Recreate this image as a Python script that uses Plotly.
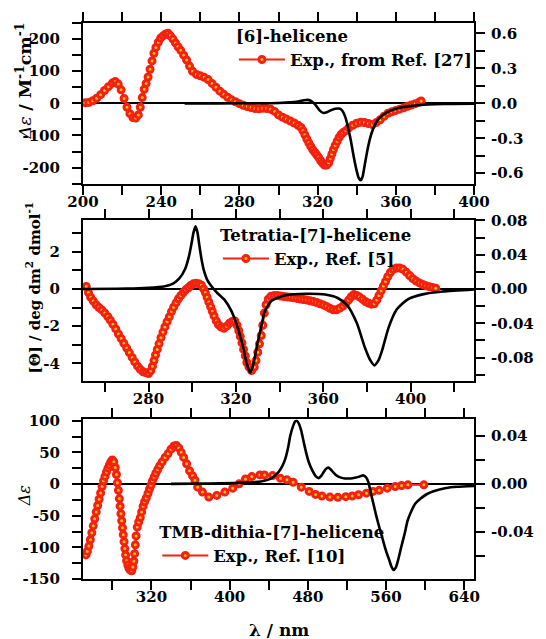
import plotly.graph_objects as go

# ---------------- [6]-helicene ----------------
hel6_exp_nm = [201, 203, 205, 207, 209, 211, 213, 215, 216.5, 218, 219.5, 221, 222.5, 224, 225.5, 227,
               228.3, 229.3, 230.3, 231.3, 232.3, 233.3, 234.3, 235.3, 236.3, 237.3, 238.5, 239.7, 241,
               242.3, 243.5, 244.7, 246, 247.3, 248.6, 250, 251.5, 253, 254.5, 256, 258, 260, 262, 264,
               266, 268, 270, 272, 274, 276, 278, 280, 282, 284, 286, 288, 290, 292, 294, 296, 298, 300,
               302, 304, 306, 308, 310, 311.5, 312.5, 313.5, 314.5, 315.5, 316.5, 317.5, 318.5, 319.5,
               320.5, 321.5, 322.5, 323.5, 324.7, 325.7, 326.5, 327.3, 328.1, 329, 330, 331, 332, 333,
               334.5, 336, 338, 340, 342, 344, 346, 348, 350, 352, 354, 356, 358, 360, 362, 364, 366,
               368, 370, 372, 373]
hel6_exp_de = [2, 3, 8, 16, 27, 40, 52, 63, 68, 60, 42, 15, -12, -32, -44, -46,
               -36, -12, 18, 44, 62, 82, 106, 132, 156, 174, 190, 203, 210,
               216, 218, 210, 200, 188, 176, 165, 150, 135, 116, 100, 90, 86, 81, 74,
               62, 50, 38, 28, 19, 11, 5, -1, -6, -10, -13, -16, -17, -15, -16, -18, -25, -36,
               -43, -49, -55, -61, -68, -75, -85, -98, -111, -123, -134, -144, -152, -160,
               -168, -178, -186, -192, -192, -185, -172, -158, -144, -131, -118, -106, -97, -91,
               -85, -76, -68, -62, -59, -60, -63, -66, -60, -51, -40, -31, -26, -22, -18, -14, -9,
               -5, -1, 4, 7]
hel6_calc_nm = [252, 270, 290, 300, 306, 310, 313, 315, 317, 319, 321, 323, 325, 327, 329, 331,
                332.5, 334, 335.5, 337, 338.5, 340, 341, 342, 343, 344, 345.5, 347, 348.5, 350.5,
                353.4, 357, 361.5, 367, 373, 380, 389, 400]
hel6_calc_de = [0, 0, 0.001, 0.003, 0.008, 0.016, 0.026, 0.03, 0.018, -0.015, -0.06, -0.083, -0.075,
                -0.058, -0.047, -0.045, -0.06, -0.11, -0.2, -0.32, -0.46, -0.58, -0.64, -0.66, -0.63,
                -0.54, -0.4, -0.29, -0.215, -0.15, -0.1, -0.065, -0.04, -0.024, -0.014, -0.008,
                -0.005, -0.003]

# ---------------- Tetrathia-[7]-helicene ----------------
tth7_exp_nm = [251.5, 252.5, 253.5, 254.7, 256, 257.3, 258.6, 260, 261.3, 262.5, 263.7, 265, 266.2,
               267.5, 268.7, 270, 271.2, 272.5, 273.7, 275, 276.2, 277.5, 278.7, 280, 281, 281.8,
               282.5, 283.2, 284, 284.8, 285.7, 286.6, 287.5, 288.5, 289.5, 290.5, 291.5, 292.6,
               293.7, 294.8, 296, 297, 298.2, 299.3, 300.5, 301.7, 303, 304.2, 305.2, 306, 306.8,
               307.6, 308.4, 309.2, 310, 311, 312, 313.2, 314.5, 315.8, 317, 318.3, 319.5, 320.5,
               321.3, 322, 322.8, 323.5, 324.3, 325, 326, 327.2, 328.4, 329.2, 330, 330.8, 331.6,
               332.3, 333, 333.8, 334.8, 336, 337.5, 339, 340.5, 342, 343.5, 345, 346.5, 348, 349.5,
               351, 352.5, 354, 355.5, 357, 358.5, 360, 361.5, 363, 364.5, 366, 367.5, 369, 370.3,
               371.6, 372.8, 374, 375.3, 376.6, 378, 379.3, 380.6, 382, 383.3, 384.5, 385.5, 386.5,
               387.5, 388.5, 389.5, 390.7, 392, 393.5, 395, 396.5, 398, 399.5, 401, 402.5, 404,
               405.5, 407, 408.5, 410, 411.5]
tth7_exp_th = [0.13, -0.2, -0.45, -0.65, -0.85, -1.0, -1.13, -1.3, -1.48, -1.68, -1.9, -2.15, -2.42,
               -2.67, -2.92, -3.18, -3.42, -3.68, -3.92, -4.15, -4.32, -4.45, -4.5, -4.55, -4.4, -4.15,
               -3.85, -3.55, -3.25, -2.95, -2.62, -2.32, -2.04, -1.76, -1.5, -1.22, -0.98, -0.75,
               -0.53, -0.35, -0.18, -0.05, 0.06, 0.18, 0.27, 0.3, 0.28, 0.2, 0.0, -0.2, -0.45,
               -0.7, -0.95, -1.2, -1.45, -1.72, -1.92, -2.05, -2.12, -2.0, -1.85, -1.75, -1.72, -1.95,
               -2.25, -2.55, -2.9, -3.25, -3.6, -3.95, -4.2, -4.38, -4.2, -3.85, -3.4, -2.95, -2.5,
               -1.95, -1.3, -0.85, -0.55, -0.4, -0.35, -0.36, -0.38, -0.41, -0.43, -0.45, -0.48,
               -0.51, -0.54, -0.57, -0.6, -0.64, -0.68, -0.73, -0.8, -0.86, -0.94, -1.04, -1.12,
               -1.12, -1.04, -0.92, -0.78, -0.6, -0.42, -0.3, -0.35, -0.44, -0.56, -0.68, -0.76,
               -0.82, -0.8, -0.6, -0.35, -0.1, 0.15, 0.4, 0.65, 0.88, 1.05, 1.12, 1.12, 1.05, 0.9,
               0.72, 0.55, 0.42, 0.32, 0.24, 0.17, 0.12, 0.08, 0.04]
tth7_calc_nm = [250, 270, 280, 287, 291, 294, 296.7, 298.5, 299.6, 300.6, 301.5, 302.4, 303.2, 304.3,
                305.4, 306.8, 308.3, 311.2, 314.9, 317.8, 320.7, 322.5, 323.6, 325, 326.5, 327.8,
                328.7, 330, 331.6, 333.1, 336, 340.4, 346.2, 353.5, 360.8, 366.6, 371, 375.4, 379,
                381.5, 383.4, 385.3, 387, 389.9, 393.6, 398.7, 406, 414.7, 429]
tth7_calc_th = [0.0, 0.0005, 0.0015, 0.003, 0.006, 0.012, 0.023, 0.038, 0.052, 0.066, 0.073, 0.066,
                0.052, 0.034, 0.021, 0.011, 0.005, -0.004, -0.013, -0.025, -0.044, -0.06, -0.071,
                -0.087, -0.0975, -0.09, -0.079, -0.062, -0.044, -0.027, -0.0145, -0.009, -0.0062,
                -0.0055, -0.0065, -0.0105, -0.019, -0.04, -0.068, -0.083, -0.089, -0.083, -0.071,
                -0.045, -0.024, -0.012, -0.006, -0.003, -0.0005]

# ---------------- TMB-dithia-[7]-helicene ----------------
tmb7_exp_nm = [253, 254.5, 256, 257.5, 259, 260.5, 262, 263.5, 265, 266.5, 268, 269.5, 271, 272.5,
               274, 275.5, 277, 278.5, 280, 281.5, 283, 284.2, 285.2, 286.2, 287.2, 288, 288.8,
               289.6, 290.4, 291.2, 292, 292.8, 293.6, 294.6, 295.8, 297, 298.4, 299.8, 301, 302,
               302.8, 303.5, 304.3, 305.5, 307, 308.6, 310, 311.5, 313, 314.7, 316.5, 318, 319.5,
               321, 322.8, 324.5, 326.5, 328.5, 331, 334, 337, 340, 343, 345.5, 348, 350.5, 353,
               356, 359, 362, 364.5, 367.3, 372.2, 378.7, 386.9, 395.1, 403.2, 409.7, 416.2, 422.7,
               430.9, 435.7, 443.9, 452, 458.6, 465, 473.3, 481.4, 487.9, 494.4, 502.6, 510.7,
               518.8, 525.4, 531.9, 540, 546.6, 553, 561.2, 569.4, 575.9, 582.4, 598.7]
tmb7_exp_de = [-112, -106, -98, -88, -77, -66, -55, -44, -34, -24, -14, -4, 5, 12,
               19, 25, 30, 35, 38, 35, 26, 15, 2, -10, -23, -35, -47,
               -58, -69, -80, -91, -102, -112, -121, -128, -133, -136, -137, -131, -122,
               -110, -96, -82, -68, -60, -53, -44, -35, -28, -22, -15, -8, -2,
               5, 11, 17, 23, 29, 35, 42, 48, 55, 60, 61, 57, 50, 42,
               32, 21, 13, 6, -5, -12.8, -20.6, -18, -12.8, -6.5, 0.3, 8, 11.7,
               14.4, 14.4, 13.3, 9, 6.6, 2.8, -5, -11.7, -16.4, -19, -20.6, -21,
               -20, -19, -17, -14.4, -11.7, -10, -6.5, -4, -2.3, -1.3, -1.3]
tmb7_calc_nm = [340, 380, 410, 432, 442, 450, 454, 457, 460, 462, 465, 467, 469, 471, 473.3, 475.5,
                478.2, 481, 484.6, 488, 491.2, 493.5, 496, 498.5, 500.9, 503.5, 505.8, 509, 513.9,
                518, 523.7, 528, 531.9, 535, 537, 539.5, 541.7, 543.5, 545, 547.5, 549.8, 553,
                556.3, 560, 562.8, 565.5, 567.7, 570, 572.6, 575.5, 579.1, 582, 585.6, 590, 595.4,
                602, 608.5, 621.5, 632.9, 650]
tmb7_calc_de = [0, 0.0003, 0.0008, 0.002, 0.0043, 0.0098, 0.015, 0.021, 0.031, 0.04, 0.0484, 0.052,
                0.0526, 0.05, 0.0443, 0.036, 0.0263, 0.018, 0.0112, 0.0065, 0.0048, 0.0065, 0.0095,
                0.0125, 0.0135, 0.012, 0.0098, 0.0072, 0.0052, 0.0045, 0.0045, 0.005, 0.0058, 0.0068,
                0.007, 0.0055, 0.002, -0.004, -0.0095, -0.018, -0.026, -0.036, -0.0454, -0.056,
                -0.0625, -0.069, -0.072, -0.07, -0.063, -0.053, -0.0415, -0.031, -0.0233, -0.0165,
                -0.0123, -0.0085, -0.0062, -0.0035, -0.0025, -0.0018]

# tick labels
top_x_ticks = [200, 240, 280, 320, 360, 400]
top_yl_ticks = [-200, -100, 0, 100, 200]
top_yl_text = ["-200", "-100", "0", "100", "200"]
top_yr_ticks = [-0.6, -0.3, 0.0, 0.3, 0.6]
top_yr_text = ["-0.6", "-0.3", "0.0", "0.3", "0.6"]
mid_x_ticks = [280, 320, 360, 400]
mid_yl_ticks = [-4, -2, 0, 2]
mid_yl_text = ["-4", "-2", "0", "2"]
mid_yr_ticks = [-0.08, -0.04, 0.0, 0.04, 0.08]
mid_yr_text = ["-0.08", "-0.04", "0.00", "0.04", "0.08"]
bot_x_ticks = [320, 400, 480, 560, 640]
bot_yl_ticks = [-150, -100, -50, 0, 50, 100]
bot_yl_text = ["-150", "-100", "-50", "0", "50", "100"]
bot_yr_ticks = [-0.08, -0.04, 0.0, 0.04]
bot_yr_text = ["-0.08", "-0.04", "0.00", "0.04"]

RED = "#f5200f"
CORE = "#ffbe1a"
FONT = "DejaVu Serif"

fig = go.Figure()

exp_marker = dict(symbol="circle", size=6, color=CORE, line=dict(color=RED, width=3))


def add_panel(nm_exp, v_exp, nm_calc, v_calc, xa, ya_left, ya_right, name, legend):
    fig.add_trace(go.Scatter(x=nm_exp, y=v_exp, xaxis=xa, yaxis=ya_left, mode="lines+markers",
                             line=dict(color=RED, width=2), marker=exp_marker, name=name,
                             legend=legend, showlegend=True))
    fig.add_trace(go.Scatter(x=nm_calc, y=v_calc, xaxis=xa, yaxis=ya_right, mode="lines",
                             line=dict(color="black", width=2.6, shape="spline", smoothing=0.6),
                             showlegend=False, hoverinfo="skip"))


add_panel(hel6_exp_nm, hel6_exp_de, hel6_calc_nm, hel6_calc_de, "x", "y", "y2",
          "Exp., from Ref. [27]", "legend")
add_panel(tth7_exp_nm, tth7_exp_th, tth7_calc_nm, tth7_calc_th, "x2", "y3", "y4",
          "Exp., Ref. [5]", "legend2")
add_panel(tmb7_exp_nm, tmb7_exp_de, tmb7_calc_nm, tmb7_calc_de, "x3", "y5", "y6",
          "Exp., Ref. [10]", "legend3")

TL = 9
tickfont = dict(family=FONT, size=15, color="black", weight="bold")


def xax(rng, ticks, minor_dtick, minor_tick0, anchor):
    return dict(range=rng, anchor=anchor, tickmode="array", tickvals=ticks,
                ticktext=[str(t) for t in ticks], ticks="outside", ticklen=TL, tickwidth=1.6,
                tickcolor="black", showline=True, linewidth=2, linecolor="black", mirror="ticks",
                showgrid=False, zeroline=False, tickfont=tickfont, ticklabelstandoff=-6,
                minor=dict(ticks="outside", ticklen=TL, tickwidth=1.6, tickcolor="black",
                           dtick=minor_dtick, tick0=minor_tick0, showgrid=False))


def ylax(rng, dom, ticks, text, minor_dtick, anchor):
    return dict(range=rng, domain=dom, anchor=anchor, tickmode="array", tickvals=ticks,
                ticktext=text, ticks="outside", ticklen=TL, tickwidth=1.6, tickcolor="black",
                showline=True, linewidth=2, linecolor="black", showgrid=False,
                zeroline=True, zerolinecolor="black", zerolinewidth=1.6,
                tickfont=tickfont, ticklabelstandoff=9,
                minor=dict(ticks="outside", ticklen=TL, tickwidth=1.6, tickcolor="black",
                           dtick=minor_dtick, tick0=0, showgrid=False))


def yrax(rng, ticks, text, minor_dtick, overlay, anchor):
    return dict(range=rng, overlaying=overlay, side="right", anchor=anchor, tickmode="array",
                tickvals=ticks, ticktext=text, ticks="outside", ticklen=TL, tickwidth=1.6,
                tickcolor="black", showline=True, linewidth=2, linecolor="black",
                showgrid=False, zeroline=False, tickfont=tickfont, ticklabelstandoff=3,
                minor=dict(ticks="outside", ticklen=TL, tickwidth=1.6, tickcolor="black",
                           dtick=minor_dtick, tick0=0, showgrid=False))


dom_top = [0.711, 1.0]
dom_mid = [0.357, 0.645]
dom_bot = [0.0, 0.287]

legend_font = dict(family=FONT, size=16.5, color="black", weight="bold")


def legend_box(x, y, title):
    return dict(x=x, y=y, xanchor="left", yanchor="top", bgcolor="rgba(0,0,0,0)",
                borderwidth=0, font=legend_font,
                title=dict(text=title, font=legend_font, side="top"),
                itemwidth=46, tracegroupgap=0)


fig.update_layout(
    width=546, height=639,
    margin=dict(l=83, r=54, t=19, b=60),
    paper_bgcolor="white", plot_bgcolor="white",
    font=dict(family=FONT, size=15, color="black"),
    xaxis=xax([200, 400], top_x_ticks, 20, 200, "y"),
    yaxis=ylax([-250, 250], dom_top, top_yl_ticks, top_yl_text, 50, "x"),
    yaxis2=yrax([-0.69, 0.69], top_yr_ticks, top_yr_text, 0.15, "y", "x"),
    xaxis2=xax([250, 429], mid_x_ticks, 20, 260, "y3"),
    yaxis3=ylax([-4.92, 3.68], dom_mid, mid_yl_ticks, mid_yl_text, 1, "x2"),
    yaxis4=yrax([-0.1067, 0.08], mid_yr_ticks, mid_yr_text, 0.02, "y3", "x2"),
    xaxis3=xax([250, 650], bot_x_ticks, 40, 280, "y5"),
    yaxis5=ylax([-150, 102], dom_bot, bot_yl_ticks, bot_yl_text, 25, "x3"),
    yaxis6=yrax([-0.0795, 0.0538], bot_yr_ticks, bot_yr_text, 0.02, "y5", "x3"),
    legend=legend_box(0.386, 1.004, "[6]-helicene"),
    legend2=legend_box(0.345, 0.646, "Tetratia-[7]-helicene"),
    legend3=legend_box(0.19, 0.112, "TMB-dithia-[7]-helicene"),
    showlegend=True,
)

title_font = dict(family=FONT, size=17.5, color="black", weight="normal")
fig.add_annotation(text="<i>Δε</i> <b>/ M<sup>-1</sup>cm<sup>-1</sup></b>", xref="paper", yref="paper",
                   x=-0.152, y=0.896, xanchor="center", yanchor="middle", textangle=-90,
                   showarrow=False, font=title_font)
fig.add_annotation(text="<b>[Θ] / deg dm<sup>2</sup> dmol<sup>-1</sup></b>", xref="paper", yref="paper",
                   x=-0.127, y=0.525, xanchor="center", yanchor="middle", textangle=-90,
                   showarrow=False, font=dict(family=FONT, size=15, color="black"))
fig.add_annotation(text="<i>Δε</i>", xref="paper", yref="paper",
                   x=-0.149, y=0.15, xanchor="center", yanchor="middle", textangle=-90,
                   showarrow=False, font=dict(family=FONT, size=16, color="black", weight="normal"))
fig.add_annotation(text="<b>λ / nm</b>", xref="paper", yref="paper",
                   x=0.5, y=-0.091, xanchor="center", yanchor="middle",
                   showarrow=False, font=dict(family=FONT, size=17, color="black"))

fig.write_html("out.html")
